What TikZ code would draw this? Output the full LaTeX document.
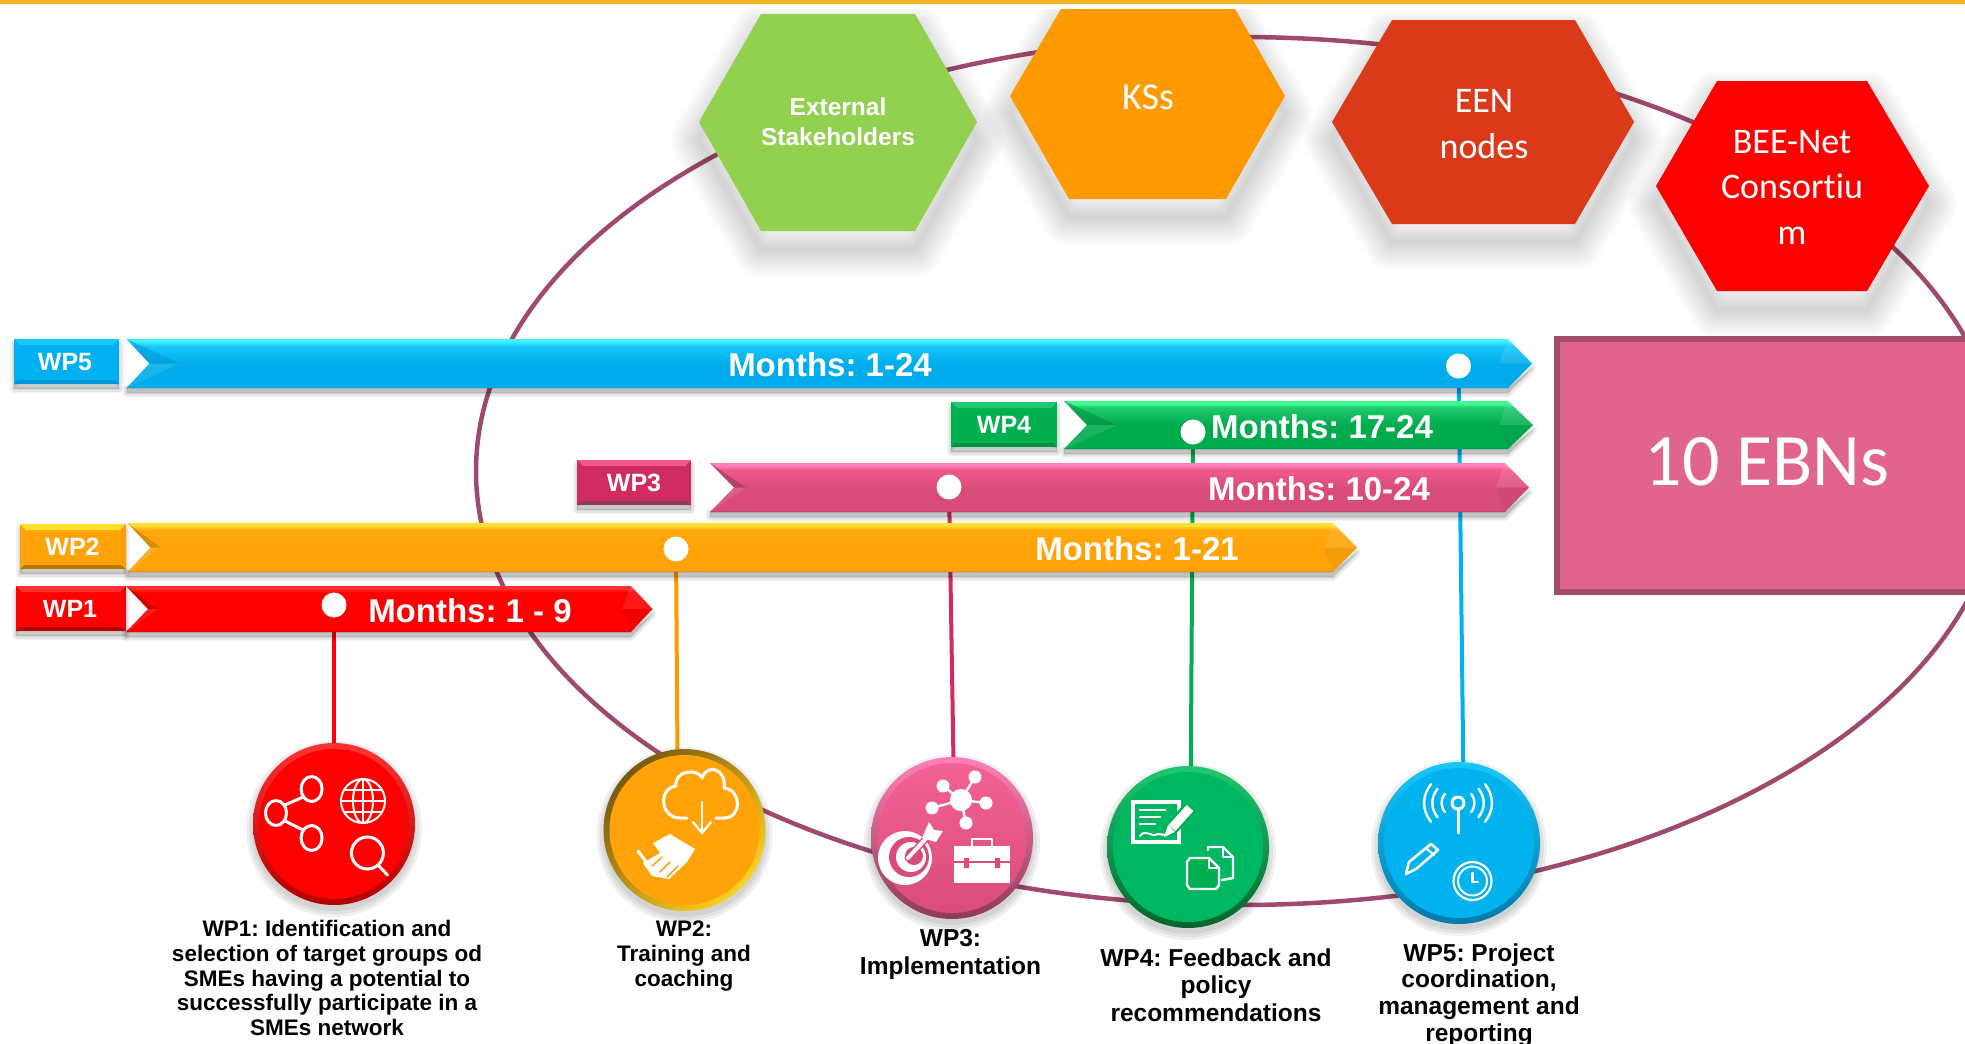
\documentclass[tikz,border=0pt]{standalone}
\usepackage{fontspec}
\setmainfont{Liberation Sans}
\newfontfamily\carlito[Ligatures=NoCommon]{Carlito}
\frenchspacing
\usetikzlibrary{calc}
\pgfdeclarelayer{back}
\pgfsetlayers{back,main}
\definecolor{goldline}{HTML}{F0B323}
\definecolor{ringc}{HTML}{9E4A6E}
\definecolor{hexgreen}{HTML}{92D050}
\definecolor{hexorange}{HTML}{FF9900}
\definecolor{hexrust}{HTML}{DB3A1A}
\definecolor{hexred}{HTML}{FF0000}
\definecolor{ebnfill}{HTML}{E1658A}
\definecolor{ebnedge}{HTML}{A34D68}
\definecolor{lnred}{HTML}{FF0000}
\definecolor{lnorange}{HTML}{FF9900}
\definecolor{lncrimson}{HTML}{D02C60}
\definecolor{lngreen}{HTML}{00B050}
\definecolor{lnblue}{HTML}{00B0F0}
\definecolor{rimbrown}{HTML}{7A5A10}
\definecolor{rimyellow}{HTML}{FFD020}
% bar colours: dark, base, mid, light
\definecolor{bAd}{HTML}{0098D8}\definecolor{bAb}{HTML}{00ACEC}\definecolor{bAm}{HTML}{18C8F8}\definecolor{bAl}{HTML}{40F0FF}
\definecolor{bBd}{HTML}{009040}\definecolor{bBb}{HTML}{00AB4E}\definecolor{bBm}{HTML}{20C870}\definecolor{bBl}{HTML}{40FF90}
\definecolor{bCd}{HTML}{8F3A58}\definecolor{bCb}{HTML}{D94C78}\definecolor{bCm}{HTML}{F05A8A}\definecolor{bCl}{HTML}{FF80B8}
\definecolor{bDd}{HTML}{B87800}\definecolor{bDb}{HTML}{FFA309}\definecolor{bDm}{HTML}{FFA80A}\definecolor{bDl}{HTML}{FFE030}
\definecolor{bEd}{HTML}{B00000}\definecolor{bEb}{HTML}{FF0000}\definecolor{bEm}{HTML}{FF0000}\definecolor{bEl}{HTML}{FF3030}
\newcommand\mkbar[5]{\pgfdeclareverticalshading{#1}{100bp}{color(0bp)=(#2); color(25bp)=(#2); color(26.5bp)=(#3); color(50bp)=(#3); color(68bp)=(#4); color(72.5bp)=(#5); color(75bp)=(#5); color(100bp)=(#5)}}
\mkbar{barA}{bAd}{bAb}{bAm}{bAl}
\mkbar{barB}{bBd}{bBb}{bBm}{bBl}
\mkbar{barC}{bCd}{bCb}{bCm}{bCl}
\mkbar{barD}{bDd}{bDb}{bDm}{bDl}
\mkbar{barE}{bEd}{bEb}{bEm}{bEl}
% #1 shading #2 dark colour #3 left #4 notch #5 shoulder #6 tip #7 top #8 bottom #9 notch depth
\newcommand\wpbar[9]{%
  \pgfmathsetmacro\barmid{(#7+#8)/2}%
  \foreach \w in {2,5,8}{\draw[black,opacity=.05,line width=\w pt,line join=round,fill=black] (#3,#8) -- (#5,#8) -- (#6,\barmid+5) -- (#5,#8+5) -- (#3,#8+5) -- cycle;}
  \path[shading=#1] (#3,#7) -- (#5,#7) -- (#6,\barmid) -- (#5,#8) -- (#3,#8) -- (#4,\barmid) -- cycle;
  \fill[#2,opacity=.55] (#3,#7) -- (#4+#9,\barmid) -- (#4,\barmid) -- cycle;
  \fill[white,opacity=.10] (#3,#8) -- (#4+#9,\barmid) -- (#4,\barmid) -- cycle;
  \fill[white,opacity=.10] (#5,#7) -- (#6,\barmid) -- (#5-9,\barmid) -- cycle;
  \fill[#2,opacity=.15] (#5,#8) -- (#6,\barmid) -- (#5-9,\barmid) -- cycle;
}
% #1 base #2 light #3 dark, x1 y1 x2 y2
\newcommand\wpbox[7]{%
  \foreach \w in {2,5,8}{\draw[black,opacity=.05,line width=\w pt,line join=round,fill=black] (#4,#5+5) rectangle (#6,#7+5);}
  \fill[#1] (#4,#5) rectangle (#6,#7);
  \fill[#2] (#4,#5) -- (#6,#5) -- (#6-6,#5+6) -- (#4+6,#5+6) -- cycle;
  \fill[#3] (#4,#7) -- (#6,#7) -- (#6-4,#7-4) -- (#4+4,#7-4) -- cycle;
}
\tikzset{
  wplabel/.style={text=white,font=\bfseries\fontsize{25}{28}\selectfont,inner sep=0pt},
  monthtext/.style={text=white,font=\bfseries\fontsize{33}{36}\selectfont,inner sep=0pt},
  hextext/.style={text=white,align=center,inner sep=0pt},
  captext/.style={text=black,align=center,inner sep=0pt},
  dotnode/.style={circle,fill=white,minimum size=25pt,inner sep=0pt},
  bigdisc/.style={circle,minimum size=162pt,inner sep=0pt},
  inner disc/.style={circle,minimum size=150pt,inner sep=0pt},
  conn/.style={line width=4pt},
  icon/.style={white,line width=3pt,line join=round,line cap=round},
}
\begin{document}
\begin{tikzpicture}[x=1pt,y=-1pt]
\useasboundingbox (0,0) rectangle (1965,1044);
\begin{pgfonlayer}{back}
  \fill[white] (0,0) rectangle (1965,1044);
  \begin{scope}
    \clip (0,0) rectangle (1965,1044);
    \draw[ringc,line width=4.5pt] (1239,471) ellipse [x radius=763pt,y radius=434pt];
  \end{scope}
\end{pgfonlayer}
\clip (0,0) rectangle (1965,1044);
\fill[goldline] (0,0) rectangle (1965,4);
% hexagons
\def\hA{(699,122) -- (761,14) -- (915,14) -- (977,122) -- (915,231) -- (761,231) -- cycle}
\def\hB{(1010,96) -- (1061,9) -- (1235,9) -- (1285,96) -- (1226,199) -- (1069,199) -- cycle}
\def\hC{(1332,122) -- (1392,20) -- (1575,20) -- (1634,122) -- (1575,224) -- (1392,224) -- cycle}
\def\hD{(1656,186) -- (1717,81) -- (1867,81) -- (1929,186) -- (1867,291) -- (1717,291) -- cycle}
\begin{scope}
  \clip (0,9) rectangle (1965,1044);
  \foreach \w in {4,8,12,16,20,24,28,32,36,40,44,48,52,56}{
    \draw[black,opacity=.012,line width=\w pt,line join=round] [shift={(0,18)}] \hA;
    \draw[black,opacity=.012,line width=\w pt,line join=round] [shift={(0,18)}] \hB;
    \draw[black,opacity=.012,line width=\w pt,line join=round] [shift={(0,18)}] \hC;
    \draw[black,opacity=.012,line width=\w pt,line join=round] [shift={(0,18)}] \hD;
  }
\end{scope}
\fill[hexgreen] \hA;
\fill[hexorange] \hB;
\fill[hexrust] \hC;
\fill[hexred] \hD;
\node[hextext,font=\bfseries\fontsize{24.5}{30}\selectfont] (hexext) at (838,122) {External\\Stakeholders};
\node[hextext,font=\carlito\fontsize{38}{46}\selectfont] (hexks) at (1148,97) {KSs};
\node[hextext,font=\carlito\fontsize{36}{46}\selectfont] (hexeen) at (1484,124) {EEN\\nodes};
\node[hextext,font=\carlito\fontsize{36}{45.5}\selectfont] (hexbee) at (1792,187) {BEE-Net\\Consortiu\\m};
% 10 EBNs
\draw[ebnedge,fill=ebnfill,line width=6pt] (1556.5,338.5) rectangle (1985,592);
\node[text=white,font=\carlito\fontsize{74}{80}\selectfont,inner sep=0pt] (ebn) at (1767,462) {10 EBNs};
% bars
\wpbar{barA}{bAd}{126.5}{149.5}{1508}{1532}{339}{388}{30}
\wpbar{barB}{bBd}{1064}{1087}{1508}{1533}{401}{449}{30}
\wpbar{barC}{bCd}{710}{734}{1505}{1529}{463}{512}{12}
\wpbar{barD}{bDd}{127.5}{150.5}{1333}{1357}{523}{572}{10}
\wpbar{barE}{bEd}{126}{148}{631}{652.5}{586}{632}{10}
% boxes
\wpbox{lnblue}{bAm}{bAd}{14}{339}{119}{384}
\wpbox{lngreen}{bBm}{bBd}{951}{402}{1057}{447}
\wpbox{lncrimson}{bCm}{bCd}{577}{460}{691}{505}
\wpbox{bDb}{bDl}{bDd}{20}{524}{125.5}{569}
\wpbox{lnred}{bEl}{bEd}{16}{586}{125.5}{631}
\node[wplabel] (wp5) at (65,362) {WP5};
\node[wplabel] (wp4) at (1004,425) {WP4};
\node[wplabel] (wp3) at (634,483) {WP3};
\node[wplabel] (wp2) at (72.5,547) {WP2};
\node[wplabel] (wp1) at (70,609) {WP1};
\node[monthtext] (m5) at (830,365) {Months: 1-24};
\node[monthtext] (m4) at (1322,427) {Months: 17-24};
\node[monthtext] (m3) at (1319,489) {Months: 10-24};
\node[monthtext] (m2) at (1137,549) {Months: 1-21};
\node[monthtext] (m1) at (470,611) {Months: 1 - 9};
% dots
\node[dotnode] (d5) at (1458.5,366) {};
\node[dotnode] (d4) at (1193,432) {};
\node[dotnode] (d3) at (949,487) {};
\node[dotnode] (d2) at (676,549) {};
\node[dotnode] (d1) at (334,605) {};
% discs
\foreach \cx/\cy in {334/824,684.5/830,952/838,1188/847,1459/843}{
  \foreach \w in {2,5,8}{\fill[black,opacity=.06] (\cx,\cy+5) circle[radius=80pt+\w pt];}
}
\node[bigdisc,top color=red!80!white,bottom color=red!70!black] (c1) at (334,824) {};
\node[inner disc,top color=red,bottom color=red] at (334,824) {};
\node[bigdisc,left color=rimbrown,right color=rimyellow,shading angle=45] (c2) at (684.5,830) {};
\node[inner disc,fill=bDb] at (684.5,830) {};
\node[bigdisc,top color=bCl,bottom color=bCd] (c3) at (952,838) {};
\node[inner disc,top color=bCm!80!bCl,bottom color=bCb] at (952,838) {};
\node[bigdisc,top color=bBm,bottom color=bBd!70!black] (c4) at (1188,847) {};
\node[inner disc,fill=lngreen!90!cyan] at (1188,847) {};
\node[bigdisc,top color=bAm,bottom color=bAd!80!black] (c5) at (1459,843) {};
\node[inner disc,fill=bAb!92!cyan] at (1459,843) {};
% connectors
\begin{pgfonlayer}{back}
  \draw[conn,lnred] (d1) -- (c1);
  \draw[conn,lnorange] (d2) -- (c2.95);
  \draw[conn,lncrimson] (d3) -- (c3.89);
  \draw[conn,lngreen] (d4) -- (c4.88);
  \draw[conn,lnblue] (d5) -- (c5.87);
\end{pgfonlayer}
% icons c1
\begin{scope}[icon]
  \draw (311.6,789) ellipse [x radius=10.5pt,y radius=12.5pt];
  \draw (276,813) ellipse [x radius=10.5pt,y radius=12.5pt];
  \draw (311.6,838) ellipse [x radius=10.5pt,y radius=12.5pt];
  \draw (285,805) -- (303,797);
  \draw (285,821) -- (303,830);
  \begin{scope}[line width=2pt]
    \draw (363,801) circle[radius=22pt];
    \draw (363,801) ellipse [x radius=10pt,y radius=22pt];
    \draw (363,779) -- (363,823);
    \draw (341,801) -- (385,801);
    \draw (344,790) -- (382,790);
    \draw (344,812) -- (382,812);
  \end{scope}
  \draw (367.4,853) circle[radius=16pt];
  \draw (378,865) -- (387.5,875);
\end{scope}
% icons c2
\begin{scope}[icon]
  \draw (687,818) -- (680,818) .. controls (660,818) and (658,788) .. (676,786) .. controls (674,770) and (698,768) .. (702,778) .. controls (708,762) and (727,770) .. (724,788) .. controls (742,790) and (742,818) .. (724,818) -- (716,818);
  \draw[line width=2.2pt] (702,802) -- (702,832);
  \draw[line width=2.2pt] (693,822) -- (702,833) -- (711,822);
  \fill (653,843) -- (670,834) -- (695,849) -- (687,862) -- (669,879) -- (652,876) -- (643,863) -- (660,853) -- cycle;
  \draw (638,851) -- (656,875);
  \draw[bDb,line width=1.5pt] (660,872) -- (670,862) (667,877) -- (678,866) (652,866) -- (662,857);
\end{scope}
% icons c3
\begin{scope}[icon]
  \fill (961,800) circle[radius=11pt];
  \fill (975,777) circle[radius=6.5pt];
  \fill (943,786) circle[radius=6.5pt];
  \fill (986,803) circle[radius=6.5pt];
  \fill (966,823) circle[radius=6.5pt];
  \fill (932,808) circle[radius=6.5pt];
  \draw[line width=2.4pt] (961,800) -- (975,777) (961,800) -- (943,786) (961,800) -- (986,803) (961,800) -- (966,823) (961,800) -- (932,808);
  \fill (905,858) circle[radius=27pt];
  \fill[bCb] (909,857) circle[radius=20pt];
  \fill (911,857) circle[radius=15pt];
  \fill[bCb] (914,856) circle[radius=9pt];
  \draw[line width=7pt,bCb] (908,858) -- (932,832);
  \draw[line width=4pt] (908,858) -- (932,832);
  \fill (922,838) -- (929,822) -- (934,830) -- (943,831) -- (936,842) -- cycle;
  \fill (954,846) rectangle (1010,883);
  \draw[line width=2.5pt] (972,846) -- (972,839) -- (992,839) -- (992,846);
  \draw[bCb,line width=2pt] (954,862) -- (1010,862);
  \fill[bCb] (964,858) rectangle (969,868) (995,858) rectangle (1000,868);
\end{scope}
% icons c4
\begin{scope}[icon]
  \draw[line width=3.5pt,line cap=butt,line join=miter] (1133,802) rectangle (1179,842);
  \draw[line width=2.5pt] (1140,810) -- (1165,810) (1140,817) -- (1160,817) (1140,824) -- (1155,824);
  \draw[line width=2pt] (1140,836) .. controls (1146,828) and (1150,838) .. (1158,834) -- (1166,835);
  \draw[lngreen,line width=14pt,line cap=butt] (1190,808) -- (1168,832);
  \draw[line width=9pt,line cap=butt] (1190,808) -- (1172,828);
  \fill (1175,832) -- (1168,825) -- (1164,837) -- cycle;
  \draw[line width=2.4pt] (1208,850) -- (1208,847) -- (1223,847) -- (1233,857) -- (1233,878) -- (1222,880);
  \draw[line width=2.4pt] (1223,848) -- (1223,857) -- (1232,857);
  \filldraw[line width=2.4pt,fill=lngreen] (1187,862) -- (1187,885) -- (1190,889) -- (1216,889) -- (1219,885) -- (1219,868) -- (1209,858) -- (1190,858) -- cycle;
  \draw[line width=2.4pt] (1209,859) -- (1209,868) -- (1218,868);
\end{scope}
% icons c5
\begin{scope}[icon]
  \draw (1458,803) circle[radius=6pt];
  \draw (1458,809) -- (1458,833);
  \foreach \r in {16,25,33}{
    \draw[line width=2.4pt] ({1458+\r*.82},{803-\r*.57}) .. controls ({1458+\r*1.1},{803-\r*.2}) and ({1458+\r*1.1},{803+\r*.2}) .. ({1458+\r*.82},{803+\r*.57});
    \draw[line width=2.4pt] ({1458-\r*.82},{803-\r*.57}) .. controls ({1458-\r*1.1},{803-\r*.2}) and ({1458-\r*1.1},{803+\r*.2}) .. ({1458-\r*.82},{803+\r*.57});
  }
  \draw[line width=2.6pt] (1431,844) -- (1438,850) -- (1416,869) -- (1406,874) -- (1409,862) -- cycle;
  \draw[line width=2.2pt] (1427,849) -- (1434,855);
  \draw[line width=2.2pt] (1472.5,881) circle[radius=19pt];
  \draw[line width=2pt] (1472.5,881) circle[radius=14.5pt];
  \draw[line width=2.2pt] (1472.5,873) -- (1472.5,882) -- (1478,882);
\end{scope}
% captions
\node[captext,font=\bfseries\fontsize{22.5}{24.8}\selectfont] (t1) at (327,978) {WP1: Identification and\\selection of target groups od\\SMEs having a potential to\\successfully participate in a\\SMEs network};
\node[captext,font=\bfseries\fontsize{22.5}{24.8}\selectfont] (t2) at (684,956) {WP2:\\Training and\\coaching};
\node[captext,font=\bfseries\fontsize{24.5}{28}\selectfont] (t3) at (950.5,954) {WP3:\\Implementation};
\node[captext,font=\bfseries\fontsize{24.5}{27.5}\selectfont] (t4) at (1216,985) {WP4: Feedback and\\policy\\recommendations};
\node[captext,font=\bfseries\fontsize{24.5}{26.7}\selectfont] (t5) at (1479,995) {WP5: Project\\coordination,\\management and\\reporting};
\end{tikzpicture}
\end{document}
